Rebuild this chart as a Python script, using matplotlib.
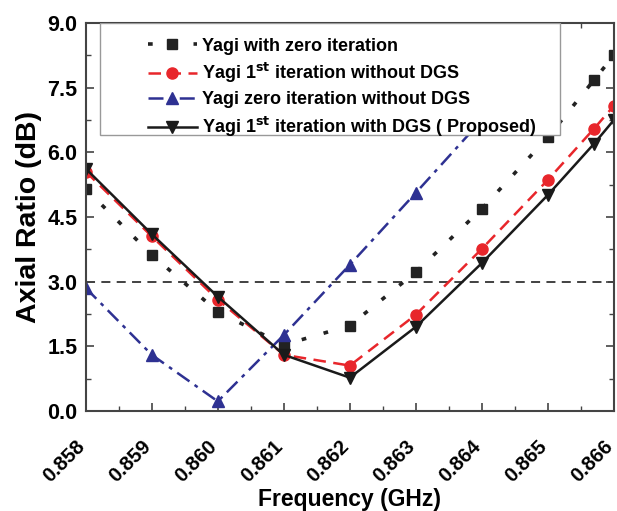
import matplotlib.pyplot as plt
from matplotlib.patches import Rectangle
from matplotlib.ticker import MultipleLocator

plt.rcParams['font.family'] = ['Liberation Sans', 'DejaVu Sans']
plt.rcParams['font.weight'] = 'bold'
plt.rcParams['mathtext.default'] = 'bf'

# data
freq_a = [0.858, 0.859, 0.860, 0.861, 0.862, 0.863, 0.864, 0.865, 0.8657, 0.866]
zero_iter = [5.15, 3.62, 2.30, 1.53, 1.98, 3.22, 4.69, 6.35, 7.68, 8.25]
first_no_dgs = [5.55, 4.05, 2.58, 1.30, 1.05, 2.23, 3.76, 5.36, 6.55, 7.08]
first_dgs = [5.62, 4.10, 2.65, 1.30, 0.77, 1.95, 3.43, 5.01, 6.20, 6.75]

freq_b = [0.858, 0.859, 0.860, 0.861, 0.862, 0.863, 0.864, 0.865]
zero_no_dgs = [2.85, 1.30, 0.22, 1.76, 3.39, 5.06, 6.75, 8.40]

xticks = [0.858, 0.859, 0.860, 0.861, 0.862, 0.863, 0.864, 0.865, 0.866]
yticks = [0.0, 1.5, 3.0, 4.5, 6.0, 7.5, 9.0]

fig = plt.figure(figsize=(6.17, 5.11), dpi=100)
ax = fig.add_axes([0.139, 0.196, 0.856, 0.759])

ax.axhline(3.0, color='#333333', ls=(0, (5, 3.5)), lw=1.3, zorder=1)

ax.plot(freq_a, zero_iter, color='#222222', ls=(0, (1.3, 5)), lw=2.6,
        marker='s', ms=6.5, label='Yagi with zero iteration')
ax.plot(freq_a, first_no_dgs, color='#e8262b', ls=(0, (5, 3)), lw=1.8,
        marker='o', ms=8, label='Yagi 1$^{st}$ iteration without DGS')
ax.plot(freq_b, zero_no_dgs, color='#2e3192', ls=(0, (6, 2.5, 1.5, 2.5)), lw=1.8,
        marker='^', ms=8, label='Yagi zero iteration without DGS')
ax.plot(freq_a, first_dgs, color='#1a1a1a', ls='-', lw=1.8,
        marker='v', ms=8, label='Yagi 1$^{st}$ iteration with DGS ( Proposed)')

ax.set_xlim(0.858, 0.866)
ax.set_ylim(0.0, 9.0)
ax.set_xticks(xticks)
ax.set_xticklabels(['%.3f' % v for v in xticks], rotation=45, ha='right',
                   va='baseline', rotation_mode='anchor', fontsize=14.5)
ax.set_yticks(yticks)
ax.set_yticklabels(['%.1f' % v for v in yticks], fontsize=15.5)
ax.yaxis.set_minor_locator(MultipleLocator(0.75))
ax.xaxis.set_minor_locator(MultipleLocator(0.0005))
ax.tick_params(which='both', direction='in', top=True, right=True, color='#444444')
ax.tick_params(which='major', length=6, width=1.2)
ax.tick_params(which='minor', length=3.5, width=1.0)
ax.tick_params(axis='x', pad=26)
ax.tick_params(axis='y', pad=6)
for s in ax.spines.values():
    s.set_linewidth(1.5)
    s.set_color('#444444')

ax.set_xlabel('Frequency (GHz)', fontsize=16.5, fontweight='bold', labelpad=2)
ax.set_ylabel('Axial Ratio (dB)', fontsize=20.5, fontweight='bold', labelpad=4)

# legend box covers the lines behind it
box = Rectangle((0.0265, 0.711), 0.872, 0.289, transform=ax.transAxes,
                facecolor='white', edgecolor='#999999', lw=1.0, zorder=4)
ax.add_patch(box)
leg = ax.legend(loc='upper left', bbox_to_anchor=(0.118, 0.962), fontsize=13,
                frameon=False, handlelength=2.7, handletextpad=0.3,
                borderpad=0.0, borderaxespad=0.0, labelspacing=0.35)
leg.set_zorder(5)

fig.savefig('out.png', dpi=100)
